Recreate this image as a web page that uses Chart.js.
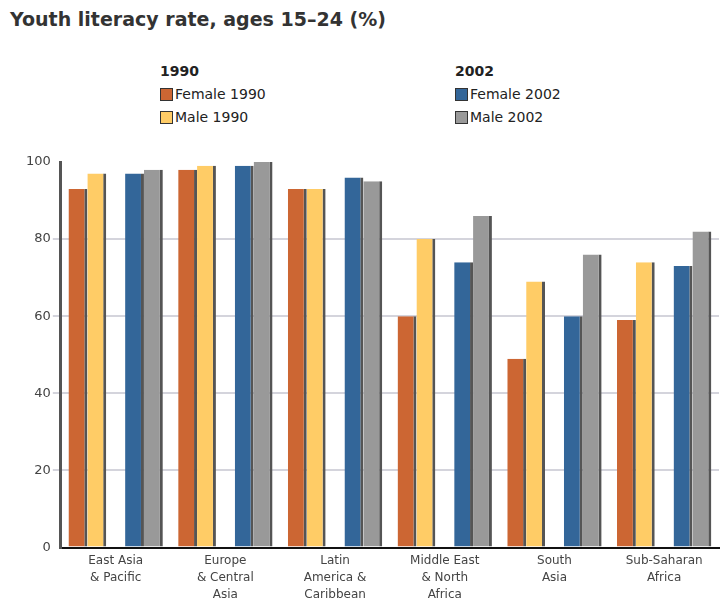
<!DOCTYPE html>
<html>
<head>
<meta charset="utf-8">
<script src="https://cdn.jsdelivr.net/npm/chart.js@4.4.1/dist/chart.umd.min.js"></script>
<style>
  html, body { margin: 0; padding: 0; background: #fff; }
  body { width: 721px; height: 608px; position: relative; overflow: hidden; font-family: 'DejaVu Sans', sans-serif; }
  #title { position: absolute; left: 10px; top: 8px; font-size: 19px; font-weight: bold; color: #333; }
  .lg { position: absolute; font-size: 14px; color: #222; line-height: 23px; }
  .lg b { font-weight: bold; display: block; }
  .sw { display: inline-block; width: 13px; height: 13px; border: 1.5px solid #333; vertical-align: -2px; margin-right: 2px; box-sizing: border-box; }
  #wrap { position: absolute; left: 0; top: 140px; width: 721px; height: 468px; }
</style>
</head>
<body>
<div id="title">Youth literacy rate, ages 15–24 (%)</div>
<div class="lg" style="left:160px; top:60px;"><b>1990</b><div id="lg1990"></div></div>
<div class="lg" style="left:455px; top:60px;"><b>2002</b><div id="lg2002"></div></div>
<div id="wrap"><canvas id="c"></canvas></div>
<script>
'use strict';

/* ── data ──────────────────────────────────────── */
var regions = [
  ['East Asia', '& Pacific'],
  ['Europe', '& Central', 'Asia'],
  ['Latin', 'America &', 'Caribbean'],
  ['Middle East', '& North', 'Africa'],
  ['South', 'Asia'],
  ['Sub-Saharan', 'Africa']
];
var female1990 = [93, 98, 93, 60, 49, 59];
var male1990   = [97, 99, 93, 80, 69, 74];
var female2002 = [97, 99, 96, 74, 60, 73];
var male2002   = [98, 100, 95, 86, 76, 82];
var yTicks = [0, 20, 40, 60, 80, 100];

var COL = { f90: '#cc6633', m90: '#ffcc66', f02: '#336699', m02: '#999999', shade: '#555555' };

/* ── HTML legend ─────────────────────────────── */
function legendRow(color, label) {
  return '<div><span class="sw" style="background:' + color + '"></span>' + label + '</div>';
}
document.getElementById('lg1990').innerHTML = legendRow(COL.f90, 'Female 1990') + legendRow(COL.m90, 'Male 1990');
document.getElementById('lg2002').innerHTML = legendRow(COL.f02, 'Female 2002') + legendRow(COL.m02, 'Male 2002');

function barSet(label, data, color) {
  return {
    label: label, data: data, backgroundColor: color,
    borderColor: COL.shade, borderWidth: { left: 0, top: 0, bottom: 0, right: 3 },
    borderSkipped: false, barPercentage: 1, categoryPercentage: 0.86
  };
}

Chart.defaults.font.family = "'DejaVu Sans', sans-serif";

new Chart(document.getElementById('c'), {
  type: 'bar',
  data: {
    labels: regions,
    datasets: [
      barSet('Female 1990', female1990, COL.f90),
      barSet('Male 1990', male1990, COL.m90),
      /* empty slot to separate the two years */
      { label: '', data: regions.map(function () { return null; }), barPercentage: 0.5, categoryPercentage: 0.86 },
      barSet('Female 2002', female2002, COL.f02),
      barSet('Male 2002', male2002, COL.m02)
    ]
  },
  options: {
    responsive: true, maintainAspectRatio: false, animation: false,
    layout: { padding: { top: 22, right: 2, left: 24, bottom: 0 } },
    plugins: { legend: { display: false }, tooltip: { enabled: false } },
    scales: {
      x: {
        grid: { display: false, drawTicks: false },
        border: { color: '#111', width: 2 },
        ticks: { color: '#444', font: { size: 12, lineHeight: 1.4 }, padding: 5, maxRotation: 0, autoSkip: false }
      },
      y: {
        min: 0, max: 100,
        afterBuildTicks: function (s) { s.ticks = yTicks.map(function (v) { return { value: v }; }); },
        grid: { color: function (c) { return c.tick.value === 0 || c.tick.value === 100 ? 'rgba(0,0,0,0)' : '#d4d4dc'; }, lineWidth: 2, drawTicks: true, tickLength: 8 },
        border: { color: '#555', width: 3 },
        ticks: { color: '#444', font: { size: 13 }, padding: 2 }
      }
    }
  }
});
</script>
</body>
</html>
